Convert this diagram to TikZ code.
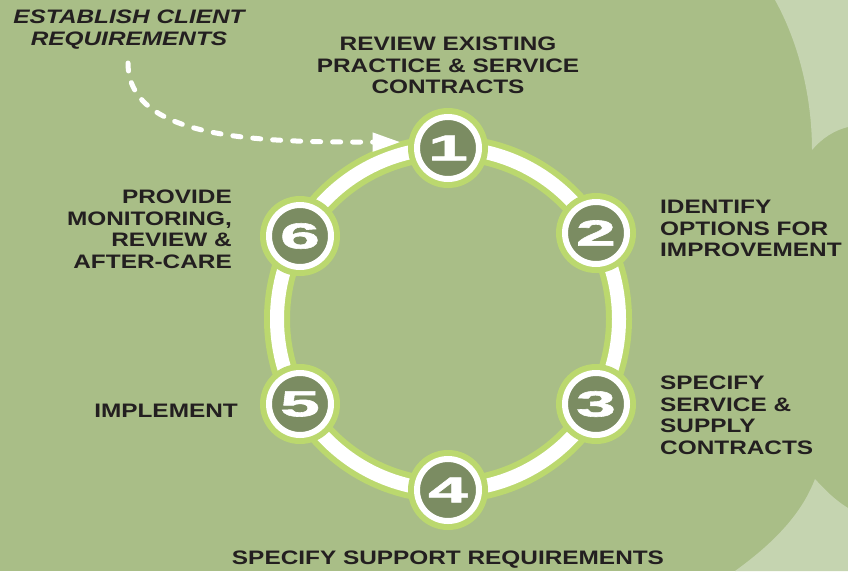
\documentclass[tikz,border=0pt]{standalone}
\usepackage{fontspec}
\setmainfont{Liberation Sans}
\newfontfamily\lblfont{Liberation Sans}[FakeStretch=1.25]
\newfontfamily\numfont{Liberation Sans}[FakeStretch=2.0,FakeBold=1.6]
\usetikzlibrary{arrows.meta}
\definecolor{bggreen}{RGB}{169,190,135}
\definecolor{lightbg}{RGB}{197,212,176}
\definecolor{ringgreen}{RGB}{187,216,110}
\definecolor{darkfill}{RGB}{123,140,98}
\definecolor{txt}{RGB}{35,31,32}
\tikzset{
  numnode/.style={circle, minimum size=62pt, inner sep=0pt, fill=darkfill, draw=white, line width=6pt,
    preaction={draw=ringgreen, line width=18pt},
    text=white, font=\numfont\bfseries\fontsize{36}{36}\selectfont},
  lbl/.style={inner sep=0pt, text=txt, font=\lblfont\bfseries\fontsize{19.5}{21.5}\selectfont},
  dasharrow/.style={white, line width=5pt, dash pattern=on 8pt off 12pt, line cap=round,
    -{Triangle[length=28pt,width=18pt]}}
}
\begin{document}
\begin{tikzpicture}[x=1pt,y=-1pt]
\useasboundingbox (0,0) rectangle (848,571);
\fill[bggreen] (0,0) rectangle (848,571);
% light regions on the right
\fill[lightbg] (775,0) .. controls (800,45) and (812,100) .. (812,150)
  .. controls (822,138) and (835,130) .. (848,127) -- (848,0) -- cycle;
\fill[lightbg] (815,479) .. controls (805,505) and (785,535) .. (735,571)
  -- (848,571) -- (848,508) .. controls (835,500) and (825,490) .. (815,479) -- cycle;
% ring
\draw[ringgreen, line width=26pt] (448,319) circle[radius=171];
\draw[white, line width=14pt] (448,319) circle[radius=171];
% numbered nodes
\node[numnode] (n1) at (448,148) {1};
\node[numnode] (n2) at (596,233) {2};
\node[numnode] (n3) at (596,404) {3};
\node[numnode] (n4) at (448,490) {4};
\node[numnode] (n5) at (300,404) {5};
\node[numnode] (n6) at (300,236) {6};
% dashed arrow
\coordinate (astart) at (128,63);
\draw[dasharrow, shorten >=14pt] (astart) .. controls +(0,78) and +(-150,0) .. (n1.170);
% labels
\node[lbl, font=\lblfont\bfseries\itshape\fontsize{19.5}{21.5}\selectfont, align=center, anchor=north] (l0) at (129,10)
  {ESTABLISH CLIENT\\REQUIREMENTS};
\node[lbl, align=center, anchor=north] (l1) at (448,37)
  {REVIEW EXISTING\\PRACTICE \& SERVICE\\CONTRACTS};
\node[lbl, align=left, anchor=north west] (l2) at (660,200)
  {IDENTIFY\\OPTIONS FOR\\IMPROVEMENT};
\node[lbl, align=left, anchor=north west] (l3) at (660,376)
  {SPECIFY\\SERVICE \&\\SUPPLY\\CONTRACTS};
\node[lbl, align=center, anchor=north] (l4) at (448,551)
  {SPECIFY SUPPORT REQUIREMENTS};
\node[lbl, align=right, anchor=north east] (l5) at (238,404)
  {IMPLEMENT};
\node[lbl, align=right, anchor=north east] (l6) at (232,190)
  {PROVIDE\\MONITORING,\\REVIEW \&\\AFTER-CARE};
\end{tikzpicture}
\end{document}
